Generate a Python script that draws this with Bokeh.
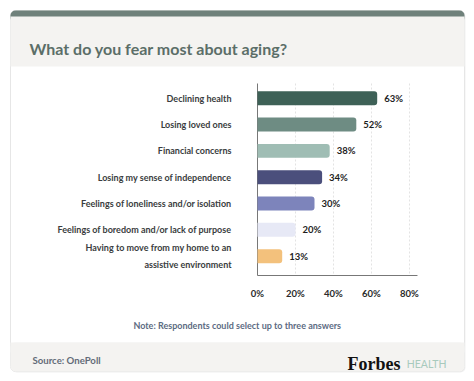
from bokeh.plotting import figure
from bokeh.models import Range1d, ColumnDataSource
from bokeh.embed import file_html
from bokeh.resources import INLINE
from bokeh.core.properties import value

# ---- data ----
categories = [
    "Declining health",
    "Losing loved ones",
    "Financial concerns",
    "Losing my sense of independence",
    "Feelings of loneliness and/or isolation",
    "Feelings of boredom and/or lack of purpose",
    "Having to move from my home to an\nassistive environment",
]
values = [63, 52, 38, 34, 30, 20, 13]
bar_colors = ["#3e6157", "#6e8c83", "#9fbdb4", "#4b4f7c", "#7d84bb", "#e7e9f6", "#f3c17c"]
x_ticks = [0, 20, 40, 60, 80]
grid_ticks = [20, 40, 60, 80]
x_max = 84.2
value_labels = [f"{v}%" for v in values]
tick_labels = [f"{t}%" for t in x_ticks]
title_text = "What do you fear most about aging?"
note_text = "Note: Respondents could select up to three answers"
source_text = "Source:  OnePoll"
brand_text = "Forbes"
brand_sub = "HEALTH"

# ---- layout (page pixel space) ----
W, H = 466, 373
CL, CR, CT, CB = 10, 464, 10, 371          # card edges
ZERO_PX, PX_PER_PCT = 257.0, 1.9          # where 0% sits, pixels per percent
ROW0_PX, PX_PER_ROW = 97.7, 26.33         # first row centre, row spacing
AXIS_TOP, AXIS_Y = 83, 275
FONT = "Lato"

p = figure(width=W, height=H, x_range=Range1d(0, W), y_range=Range1d(H, 0),
           x_axis_type=None, y_axis_type=None, toolbar_location=None,
           output_backend="svg", min_border=0, margin=0,
           background_fill_color="white", border_fill_color="white")
p.grid.visible = False
p.outline_line_color = None

# percentage scale and row scale mapped onto the page
p.extra_x_ranges = {"pct": Range1d(-ZERO_PX / PX_PER_PCT, (W - ZERO_PX) / PX_PER_PCT)}
p.extra_y_ranges = {"row": Range1d((H - ROW0_PX) / PX_PER_ROW, -ROW0_PX / PX_PER_ROW)}

# ---- card decoration ----
p.quad(left=[CL + 1], right=[CR + 1], top=[CT + 1], bottom=[CB + 1], fill_color="#f0f0f0",
       line_color=None, border_radius=5)
p.quad(left=[CL], right=[CR], top=[CT], bottom=[CB], fill_color="white",
       line_color="#e6e6e6", line_width=1, border_radius=5)
p.quad(left=[CL], right=[CR], top=[CT], bottom=[CT + 12], fill_color="#6f817b",
       line_color=None, border_radius=5)
p.quad(left=[CL], right=[CR], top=[16], bottom=[66], fill_color="#f4f3f1", line_color=None)
p.quad(left=[CL], right=[CR], top=[342], bottom=[CB], fill_color="#f4f3f1", line_color=None,
       border_radius=5)
p.quad(left=[CL], right=[CR], top=[342], bottom=[352], fill_color="#f4f3f1", line_color=None)

p.text(x=[29], y=[48.3], text=[title_text], text_font=value(FONT),
       text_font_style="bold", text_font_size="16px", text_color="#5b6e68",
       text_baseline="alphabetic", text_align="left")

# ---- grid and axes ----
p.segment(x0=grid_ticks, x1=grid_ticks, y0=[AXIS_TOP] * len(grid_ticks),
          y1=[AXIS_Y] * len(grid_ticks), x_range_name="pct",
          line_color="#e3e3e3", line_dash="2 2", line_width=1)
p.segment(x0=[0], x1=[0], y0=[AXIS_TOP], y1=[AXIS_Y], x_range_name="pct",
          line_color="#777777", line_width=1)
p.segment(x0=[0], x1=[x_max], y0=[AXIS_Y], y1=[AXIS_Y], x_range_name="pct",
          line_color="#777777", line_width=1)
p.text(x=x_ticks, y=[AXIS_Y + 18] * len(x_ticks), text=tick_labels, x_range_name="pct",
       text_font=value(FONT), text_font_style="bold", text_font_size="9.5px",
       text_color="#2a2a2a", text_align="center", text_baseline="middle")

# ---- bars ----
src = ColumnDataSource(dict(row=list(range(len(categories))), cat=categories,
                            v=values, color=bar_colors, lbl=value_labels,
                            zero=[0] * len(values)))
p.hbar(y="row", left="zero", right="v", height=0.53, fill_color="color", line_color=None,
       border_radius=(0, 3, 3, 0), x_range_name="pct", y_range_name="row", source=src)
p.text(x="v", y="row", text="lbl", x_offset=7, x_range_name="pct", y_range_name="row",
       text_baseline="middle", text_align="left", text_font=value(FONT),
       text_font_style="bold", text_font_size="9.5px", text_color="#1e1e1e", source=src)
p.text(x="zero", y="row", text="cat", x_offset=-26, x_range_name="pct", y_range_name="row",
       text_baseline="middle", text_align="right", text_font=value(FONT),
       text_font_style="bold", text_font_size="9px", text_color="#3a3d40",
       text_line_height=1.5, source=src)

# ---- note and footer ----
p.text(x=[236.7], y=[324.5], text=[note_text], text_font=value(FONT),
       text_font_style="bold", text_font_size="9px", text_color="#5c6b82",
       text_baseline="alphabetic", text_align="center")
p.text(x=[32], y=[360], text=[source_text], text_font=value(FONT),
       text_font_style="bold", text_font_size="9.6px", text_color="#636b78",
       text_baseline="alphabetic", text_align="left")
p.text(x=[400], y=[363.3], text=[brand_text], text_font=value("Liberation Serif"),
       text_font_style="bold", text_font_size="18px", text_color="#111111",
       text_baseline="alphabetic", text_align="right")
p.text(x=[446], y=[363.3], text=[brand_sub], text_font=value(FONT),
       text_font_size="10.5px", text_color="#a8cabd",
       text_baseline="alphabetic", text_align="right")

open("out.html", "w").write(file_html(p, INLINE))
